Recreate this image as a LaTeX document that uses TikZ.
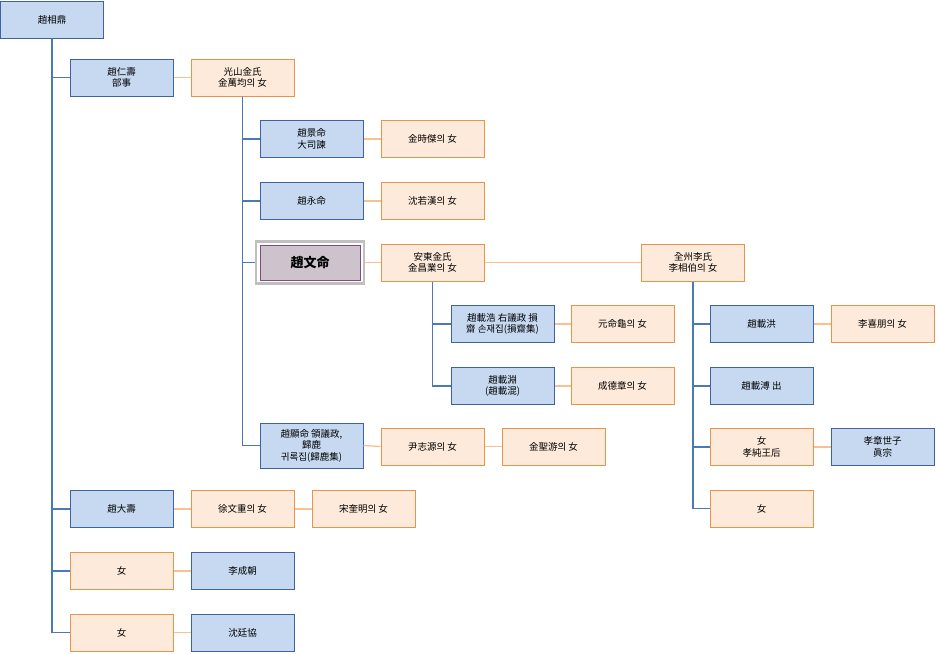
\documentclass[tikz,border=0pt]{standalone}
\usepackage{fontspec}
\setmainfont{Noto Sans CJK KR}
\usetikzlibrary{shadows}
\definecolor{bfill}{HTML}{C6D9F1}
\definecolor{bdraw}{HTML}{3D64A0}
\definecolor{ofill}{HTML}{FDEADA}
\definecolor{odraw}{HTML}{E3954A}
\definecolor{bline}{HTML}{4A7AB5}
\definecolor{oline}{HTML}{F9C090}
\begin{document}
\begin{tikzpicture}[x=1pt,y=-1pt,
  box/.style={draw,line width=1pt,minimum width=103pt,minimum height=37pt,inner sep=1pt,align=center,font=\fontsize{9.5pt}{11.5pt}\selectfont},
  m/.style={box,fill=bfill,draw=bdraw},
  f/.style={box,fill=ofill,draw=odraw},
  tr/.style={draw=bline,line width=1.3pt},
  sp/.style={draw=oline,line width=1.3pt}]
\useasboundingbox (0,0) rectangle (936,653);
\node[m] (a) at (52,19.5) {趙相鼎};
\node[m] (b) at (121.5,77.5) {趙仁壽\\部事};
\node[f] (bw) at (242.5,77.5) {光山金氏\\金萬均의 女};
\node[m] (c1) at (311.5,139) {趙景命\\大司諫};
\node[f] (c1w) at (432.5,139) {金時傑의 女};
\node[m] (c2) at (311.5,201) {趙永命};
\node[f] (c2w) at (432.5,201) {沈若漢의 女};
\node[box,draw=black!25,line width=2.5pt,fill=white,minimum width=108pt,minimum height=42pt] (c3g) at (310,262.5) {};
\node[box,draw=gray!60!violet,fill=violet!18!gray!40,font=\fontsize{13pt}{15pt}\selectfont\bfseries,minimum width=100pt,minimum height=35pt] (c3) at (310,262.5) {趙文命};
\node[f] (c3w) at (432.5,262.5) {安東金氏\\金昌業의 女};
\node[f] (c3w2) at (693,262.5) {全州李氏\\李相伯의 女};
\node[m] (d1) at (502.5,324) {趙載浩 右議政 損\\齋 손재집(損齋集)};
\node[f] (d1w) at (622.5,324) {元命龜의 女};
\node[m] (d2) at (502.5,386) {趙載淵\\(趙載混)};
\node[f] (d2w) at (622.5,386) {成德章의 女};
\node[m,minimum height=45pt] (c4) at (311.5,445.5) {趙顯命 領議政,\\歸鹿\\귀록집(歸鹿集)};
\node[f] (c4w) at (432.5,446.5) {尹志源의 女};
\node[f] (c4w2) at (553.5,446.5) {金聖游의 女};
\node[m] (e1) at (761.5,324) {趙載洪};
\node[f] (e1w) at (882.5,324) {李喜朋의 女};
\node[m] (e2) at (761.5,386) {趙載溥 出};
\node[f] (e3) at (761.5,447) {女\\孝純王后};
\node[m] (e3h) at (882.5,447) {孝章世子\\眞宗};
\node[f] (e4) at (761.5,508.5) {女};
\node[m] (g1) at (121.5,509) {趙大壽};
\node[f] (g1w) at (242.5,509) {徐文重의 女};
\node[f] (g1w2) at (363.5,509) {宋奎明의 女};
\node[f] (g2) at (121.5,571) {女};
\node[m] (g2h) at (242.5,571) {李成朝};
\node[f] (g3) at (121.5,632.5) {女};
\node[m] (g3h) at (242.5,632.5) {沈廷協};
\foreach \c in {b,g1,g2,g3} \path[tr] (a.south) |- (\c.west);
\foreach \c in {c1,c2,c3g,c4} \path[tr] (bw.south) |- (\c.west);
\foreach \c in {d1,d2} \path[tr] (c3w.south) |- (\c.west);
\foreach \c in {e1,e2,e3,e4} \path[tr] (c3w2.south) |- (\c.west);
\foreach \p/\q in {b/bw,c1/c1w,c2/c2w,c3g/c3w,c3w/c3w2,d1/d1w,d2/d2w,c4/c4w,c4w/c4w2,e1/e1w,e3/e3h,g1/g1w,g1w/g1w2,g2/g2h,g3/g3h}
  \path[sp] (\p.east) -- (\q.west);
\end{tikzpicture}
\end{document}
